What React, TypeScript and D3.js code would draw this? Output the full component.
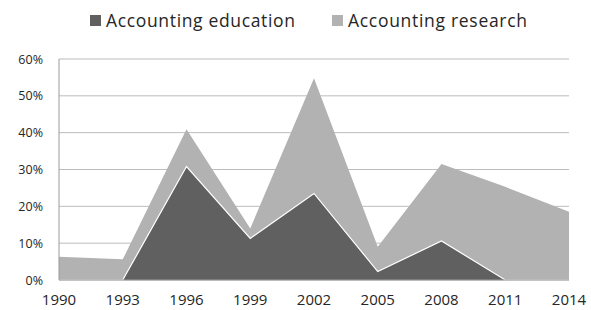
import React from 'react';
import * as d3 from 'd3';

// values (percent)
const years = ['1990', '1993', '1996', '1999', '2002', '2005', '2008', '2011', '2014'];
const education = [0, 0, 30.8, 11.3, 23.5, 2.3, 10.6, 0, 0];
const research = [6.3, 5.6, 10.1, 2.7, 31.3, 6.7, 20.9, 25.3, 18.5];
const yTicks = [0, 10, 20, 30, 40, 50, 60];
const seriesNames = ['Accounting education', 'Accounting research'];
const colors = ['#606060', '#b2b2b2'];

const W = 591, H = 310;
const margin = { top: 59, right: 22, bottom: 30, left: 59 };
const font = '"Open Sans", sans-serif';

// legend layout (marker x, text width)
const legendX = [90, 332];
const legendW = [189, 179];

export default function App() {
  const x = d3.scalePoint<string>().domain(years).range([margin.left, W - margin.right]);
  const y = d3.scaleLinear().domain([0, 60]).range([H - margin.bottom, margin.top]);

  const rows = years.map((yr, i) => ({ year: yr, edu: education[i], res: research[i] }));
  const stacked = d3.stack<any>().keys(['edu', 'res'])(rows);

  const area = d3.area<any>()
    .x(d => x(d.data.year)!)
    .y0(d => y(d[0]))
    .y1(d => y(d[1]));

  const topLine = d3.line<any>()
    .x(d => x(d.data.year)!)
    .y(d => y(d[1]));

  return (
    <svg width={W} height={H} style={{ position: 'absolute', left: 0, top: 0 }}>
      <rect width={W} height={H} fill="#fff" />
      {/* grid */}
      {yTicks.map(t => (
        <line key={t} x1={margin.left} x2={W - margin.right} y1={y(t)} y2={y(t)}
          stroke="#bcbcbc" strokeWidth={1} />
      ))}
      {/* areas: research stacked on education */}
      <path d={area(stacked[1])!} fill={colors[1]} />
      <path d={area(stacked[0])!} fill={colors[0]} />
      <path d={topLine(stacked[0])!} fill="none" stroke="#fff" strokeWidth={1.2} />
      {/* axes */}
      <line x1={margin.left} x2={margin.left} y1={margin.top} y2={H - margin.bottom} stroke="#9a9a9a" />
      <line x1={margin.left} x2={W - margin.right} y1={y(0)} y2={y(0)} stroke="#9a9a9a" />
      {yTicks.map(t => (
        <text key={t} x={43} y={y(t) + 4.5} textAnchor="end" fontFamily={font} fontSize={12.5} fill="#262626">
          {t}%
        </text>
      ))}
      {years.map(yr => (
        <text key={yr} x={x(yr)} y={305} textAnchor="middle" fontFamily={font} fontSize={15} fill="#262626">
          {yr}
        </text>
      ))}
      {/* legend */}
      {seriesNames.map((name, i) => (
        <g key={name}>
          <rect x={legendX[i]} y={15} width={11} height={11} fill={colors[i]} />
          <text x={legendX[i] + 16} y={27} fontFamily={font} fontSize={17.5} fill="#262626"
            textLength={legendW[i]} lengthAdjust="spacing">{name}</text>
        </g>
      ))}
    </svg>
  );
}
